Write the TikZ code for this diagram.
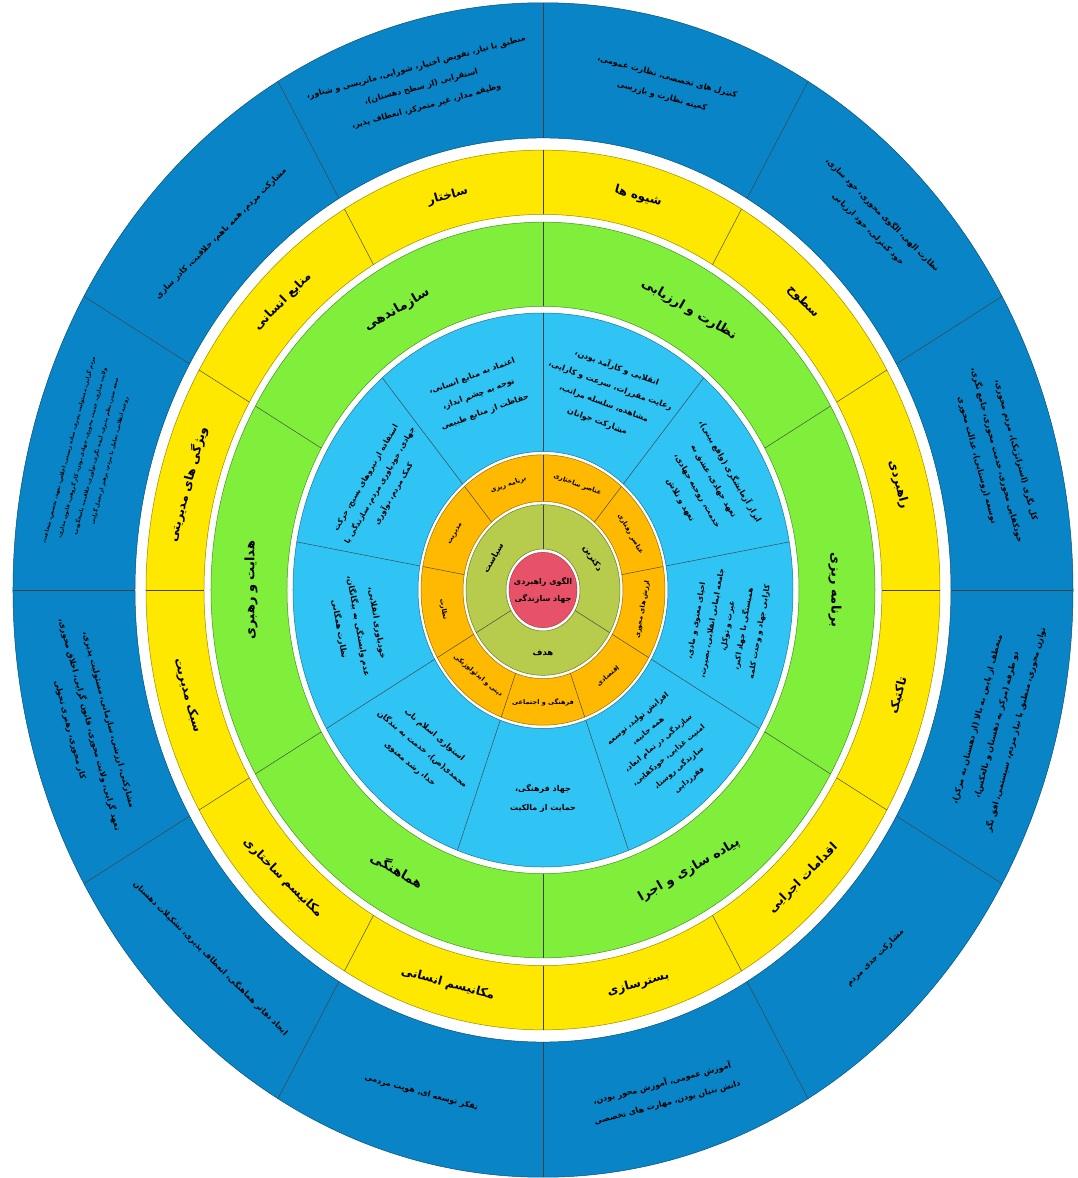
\documentclass[tikz,border=0pt]{standalone}
\usepackage{fontspec}
\TeXXeTstate=1
\newfontfamily\fa[Script=Arabic]{DejaVu Sans}
\newcommand\fx[1]{\beginR #1\endR}
\definecolor{dblue}{HTML}{0985C7}
\definecolor{yel}{HTML}{FFE800}
\definecolor{grn}{HTML}{80EF3C}
\definecolor{lblue}{HTML}{30C4F5}
\definecolor{org}{HTML}{FFB900}
\definecolor{olv}{HTML}{B7CC4C}
\definecolor{redc}{HTML}{E85268}
\newcommand\fDB{\fa\bfseries\fontsize{8}{20}\selectfont}
\newcommand\fDS{\fa\bfseries\fontsize{5.2}{14}\selectfont}
\newcommand\fYL{\fa\bfseries\fontsize{12}{14}\selectfont}
\newcommand\fGR{\fa\bfseries\fontsize{13}{15}\selectfont}
\newcommand\fLB{\fa\bfseries\fontsize{8}{19}\selectfont}
\newcommand\fLS{\fa\bfseries\fontsize{7.5}{16}\selectfont}
\newcommand\fOR{\fa\bfseries\fontsize{6.5}{8}\selectfont}
\newcommand\fOL{\fa\bfseries\fontsize{8.5}{10}\selectfont}
\newcommand\fRD{\fa\bfseries\fontsize{8}{17}\selectfont}
\newcounter{tn}
\tikzset{
  divline/.style={draw=black!75, line width=0.45pt},
  lbl/.style={text=black, align=center, inner sep=0pt},
}
\newcommand\annulus[3]{\path[fill=#1, draw=#1!60!black, line width=0.5pt, even odd rule]
  (0,0) circle[x radius=#3pt, y radius={1.108*#3pt}]
  (0,0) circle[x radius=#2pt, y radius={1.108*#2pt}];}
\newcommand\seg[4]{%
  \pgfmathsetmacro\segna{mod(#1+720,360)}%
  \pgfmathsetmacro\segrot{\segna<180.5 ? \segna-90 : \segna+90}%
  \stepcounter{tn}%
  \node[lbl, font=#3, rotate=\segrot] (t\arabic{tn}) at (#1:#2) {#4};}
\begin{document}
\begin{tikzpicture}[x=1pt,y=1.108pt]
\useasboundingbox[fill=white] (-543pt,-588pt) rectangle (534pt,590pt);
% rings
\annulus{dblue}{408}{530}
\annulus{yel}{339}{397}
\annulus{grn}{256}{332}
\annulus{lblue}{125}{250}
\annulus{org}{80}{122}
\annulus{olv}{37}{77}
\path[fill=redc, draw=redc!65!black, line width=0.4pt] (0,0) circle[x radius=34pt, y radius={1.108*34pt}];
% dividers
\foreach \a in {0,30,...,330}{\draw[divline] (\a:408) -- (\a:530); \draw[divline] (\a:339) -- (\a:397);}
\foreach \a in {30,90,...,330}{\draw[divline] (\a:256) -- (\a:332);}
\foreach \a in {10,50,...,330}{\draw[divline] (\a:125) -- (\a:250); \draw[divline] (\a:80) -- (\a:122);}
\foreach \a in {90,210,330}{\draw[divline] (\a:37) -- (\a:77);}
% center
\node[lbl, font=\fRD] (center) at (0,0) {\fx{الگوی راهبردی}\\\fx{جهاد سازندگی}};
% olive
\seg{150}{57}{\fOL}{\fx{سیاست}}
\seg{30}{57}{\fOL}{\fx{دکترین}}
\seg{270}{57}{\fOL}{\fx{هدف}}
% orange
\seg{110}{101}{\fOR}{\fx{برنامه ریزی}}
\seg{70}{101}{\fOR}{\fx{عناصر ساختاری}}
\seg{30}{101}{\fOR}{\fx{عناصر رفتاری}}
\seg{-10}{101}{\fOR}{\fx{ارزش های محوری}}
\seg{-50}{101}{\fOR}{\fx{اقتصادی}}
\seg{-90}{101}{\fOR}{\fx{فرهنگی و اجتماعی}}
\seg{-130}{101}{\fOR}{\fx{دینی و ایدئولوژیکی}}
\seg{190}{101}{\fOR}{\fx{نظارت}}
\seg{150}{101}{\fOR}{\fx{مدیریت}}
% light blue
\seg{110}{188}{\fLB}{\fx{اعتماد به منابع انسانی،}\\\fx{توجه به چشم انداز،}\\\fx{حفاظت از منابع طبیعی}}
\seg{70}{188}{\fLB}{\fx{انقلابی و کارآمد بودن،}\\\fx{رعایت مقررات، سرعت و کارایی،}\\\fx{مشاهده، سلسله مراتب،}\\\fx{مشارکت جوانان}}
\seg{30}{188}{\fLB}{\fx{ابزار آزمایشگری (واقع بینی)،}\\\fx{تعهد جهادی، عشق به}\\\fx{خدمت، روحیه جهادی،}\\\fx{تعهد و تلاش}}
\seg{-10}{188}{\fLS}{\fx{احیای معنوی و مادی،}\\\fx{جامعه ایمانی انقلابی، بصیرت،}\\\fx{غیرت و توکل،}\\\fx{همبستگی با جهاد اکبر،}\\\fx{کارایی جهاد و وحدت کلمه}}
\seg{-50}{188}{\fLS}{\fx{افزایش تولید، توسعه}\\\fx{همه جانبه،}\\\fx{سازندگی در تمام ابعاد،}\\\fx{امنیت غذایی، خودکفایی،}\\\fx{سازندگی روستا،}\\\fx{فقرزدایی}}
\seg{-90}{188}{\fLB}{\fx{جهاد فرهنگی،}\\\fx{حمایت از مالکیت}}
\seg{-130}{188}{\fLB}{\fx{استواری اسلام ناب}\\\fx{محمدی(ص)، خدمت به بندگان}\\\fx{خدا، رشد معنوی}}
\seg{190}{188}{\fLB}{\fx{خودباوری انقلابی،}\\\fx{عدم وابستگی به بیگانگان،}\\\fx{نظارت همگانی}}
\seg{150}{188}{\fLS}{\fx{استفاده از نیروهای بسیج، حرکت}\\\fx{جهادی، خودباوری مردم، سازندگی با}\\\fx{کمک مردم، نوآوری}}
% green
\seg{120}{292}{\fGR}{\fx{سازماندهی}}
\seg{60}{292}{\fGR}{\fx{نظارت و ارزیابی}}
\seg{0}{292}{\fGR}{\fx{برنامه ریزی}}
\seg{-60}{292}{\fGR}{\fx{پیاده سازی و اجرا}}
\seg{-120}{292}{\fGR}{\fx{هماهنگی}}
\seg{180}{292}{\fGR}{\fx{هدایت و رهبری}}
% yellow
\seg{105}{368}{\fYL}{\fx{ساختار}}
\seg{75}{368}{\fYL}{\fx{شیوه ها}}
\seg{45}{368}{\fYL}{\fx{سطوح}}
\seg{15}{368}{\fYL}{\fx{راهبردی}}
\seg{-15}{368}{\fYL}{\fx{تاکتیک}}
\seg{-45}{368}{\fYL}{\fx{اقدامات اجرایی}}
\seg{-75}{368}{\fYL}{\fx{بسترسازی}}
\seg{-105}{368}{\fYL}{\fx{مکانیسم انسانی}}
\seg{-135}{368}{\fYL}{\fx{مکانیسم ساختاری}}
\seg{195}{368}{\fYL}{\fx{سبک مدیریت}}
\seg{165}{368}{\fYL}{\fx{ویژگی های مدیریتی}}
\seg{135}{368}{\fYL}{\fx{منابع انسانی}}
% dark blue
\seg{105}{470}{\fDB}{\fx{منطبق با نیاز، تفویض اختیار، شورایی، ماتریسی و شناور،}\\\fx{استقرایی (از سطح دهستان)،}\\\fx{وظیفه مدار، غیر متمرکز، انعطاف پذیر،}}
\seg{75}{470}{\fDB}{\fx{کنترل های تخصصی، نظارت عمومی،}\\\fx{کمیته نظارت و بازرسی}}
\seg{45}{470}{\fDB}{\fx{نظارت الهی، الگوی محوری، خود سازی،}\\\fx{خود کنترلی، خود ارزیابی}}
\seg{15}{470}{\fDB}{\fx{کل نگری (استراتژیک)، مردم محوری،}\\\fx{خودکفایی محوری، خدمت محوری، جامع نگری،}\\\fx{توسعه (روستایی)، عدالت محوری}}
\seg{-15}{470}{\fDB}{\fx{منعطف از پایین به بالا (از دهستان به مرکز)،}\\\fx{دو طرفه (مرکز به دهستان و بالعکس)،}\\\fx{توازن محوری، منطبق با نیاز مردم، سیستمی، افق نگر}}
\seg{-45}{470}{\fDB}{\fx{مشارکت جدی مردم}}
\seg{-75}{470}{\fDB}{\fx{آموزش عمومی، آموزش محور بودن،}\\\fx{دانش بنیان بودن، مهارت های تخصصی}}
\seg{-105}{470}{\fDB}{\fx{تفکر توسعه ای، هویت مردمی}}
\seg{-135}{470}{\fDB}{\fx{ایجاد دفاتر هماهنگی، انعطاف پذیری، تشکیلات دهستان}}
\seg{195}{470}{\fDB}{\fx{مشارکتی، ارزشی، سازمانی، مسئولیت پذیری،}\\\fx{تعهد گرایی، ولایت محوری، قانون گرایی، اخلاق محوری،}\\\fx{کار محوری، رهبری تحولی}}
\seg{165}{470}{\fDS}{\fx{مردم گرایی، مسئولیت پذیری، ساده زیستی، اخلاص، تعهد، تخصص، شجاعت،}\\\fx{ولایت مداری، خدمت محوری، جهادی بودن، کار گروهی، قانون مداری،}\\\fx{سعه صدر، نظم پذیری، آینده نگری، نوآوری، خلاقیت، پاسخگویی،}\\\fx{روحیه انقلابی، تعامل با مردم، پرهیز از تجمل گرایی}}
\seg{135}{455}{\fDB}{\fx{مشارکت مردم، همه باهم، خلاقیت، کادر سازی}}
\end{tikzpicture}
\end{document}
